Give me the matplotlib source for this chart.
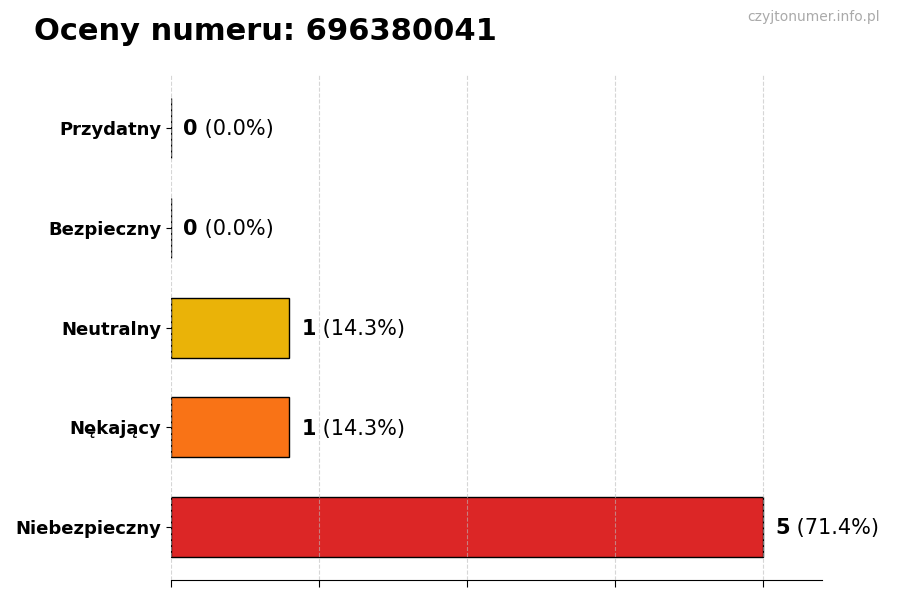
import matplotlib
matplotlib.use("Agg")
import matplotlib.pyplot as plt

# data (bottom to top)
categories = ["Niebezpieczny", "Nękający", "Neutralny", "Bezpieczny", "Przydatny"]
counts = [5, 1, 1, 0, 0]
colors = ["#dc2626", "#f97316", "#eab308", "#16a34a", "#22c55e"]
phone = "696380041"

total = sum(counts)

fig, ax = plt.subplots(figsize=(9, 6), dpi=100)
fig.subplots_adjust(left=0.19, right=0.913, top=0.875, bottom=0.033)

bars = ax.barh(categories, counts, height=0.6, color=colors,
               edgecolor="black", linewidth=1, zorder=1)

ax.set_xlim(0, max(counts) * 1.1)
ax.set_xticks([max(counts) * i / 4 for i in range(5)])
ax.set_xticklabels([])
ax.tick_params(axis="x", length=5)
ax.tick_params(axis="y", labelsize=13)
for lab in ax.get_yticklabels():
    lab.set_fontweight("bold")

ax.grid(axis="x", linestyle="--", color="#bbbbbb", alpha=0.6, zorder=2)
ax.set_axisbelow(False)

for side in ["top", "right", "left"]:
    ax.spines[side].set_visible(False)

# value labels: bold count + regular percent
for bar, c in zip(bars, counts):
    y = bar.get_y() + bar.get_height() / 2
    t1 = ax.annotate(str(c), xy=(c, y), xytext=(9, -0.8), textcoords="offset points",
                     va="center", ha="left", fontsize=15, fontweight="bold")
    pct = c / total * 100
    ax.annotate(" (%.1f%%)" % pct, xy=(1, 0), xycoords=t1,
                va="bottom", ha="left", fontsize=15)

fig.text(0.038, 0.948, "Oceny numeru: " + phone, fontsize=22, fontweight="bold",
         ha="left", va="center")
fig.text(0.978, 0.971, "czyjtonumer.info.pl", fontsize=10, color="#aaaaaa",
         ha="right", va="center")

fig.savefig("out.png", dpi=100)
